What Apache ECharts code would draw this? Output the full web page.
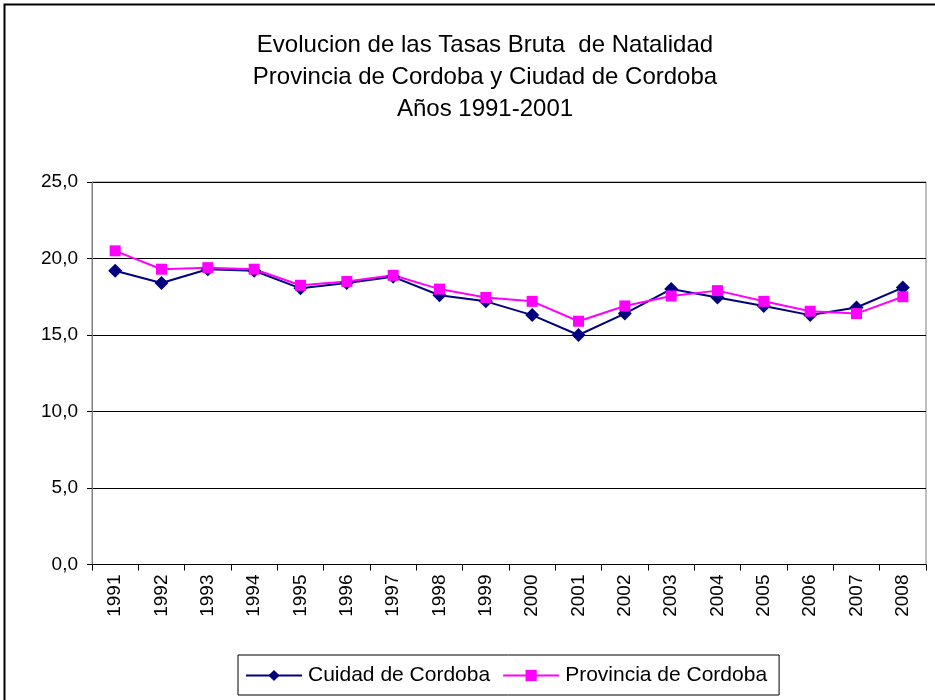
<!DOCTYPE html>
<html>
<head>
<meta charset="utf-8">
<script src="https://cdn.jsdelivr.net/npm/echarts@6/dist/echarts.min.js"></script>
<style>
html,body{margin:0;padding:0;background:#fff;}
#chart{width:935px;height:700px;}
</style>
</head>
<body>
<div id="chart"></div>
<script>
var years = ['1991','1992','1993','1994','1995','1996','1997','1998','1999','2000','2001','2002','2003','2004','2005','2006','2007','2008'];
var ciudad = [19.2, 18.4, 19.3, 19.2, 18.05, 18.4, 18.8, 17.6, 17.2, 16.3, 15.0, 16.4, 18.0, 17.45, 16.9, 16.3, 16.8, 18.1];
var provincia = [20.5, 19.3, 19.4, 19.3, 18.25, 18.5, 18.9, 18.0, 17.45, 17.2, 15.9, 16.9, 17.55, 17.9, 17.2, 16.55, 16.4, 17.5];
var yTicks = [0, 5, 10, 15, 20, 25];
var FONT = '"Liberation Sans", Arial, sans-serif';

var chart = echarts.init(document.getElementById('chart'), null, {renderer: 'canvas'});
chart.setOption({
  backgroundColor: '#ffffff',
  animation: false,
  graphic: [{
    type: 'rect',
    shape: {x: 4.5, y: 4.5, width: 940, height: 700},
    style: {fill: 'none', stroke: '#000', lineWidth: 2},
    silent: true
  }],
  title: {
    text: 'Evolucion de las Tasas Bruta  de Natalidad\nProvincia de Cordoba y Ciudad de Cordoba\nAños 1991-2001',
    left: 480,
    top: 24,
    textAlign: 'center',
    textStyle: {fontFamily: FONT, fontSize: 24, fontWeight: 'normal', color: '#000', lineHeight: 32}
  },
  grid: {
    left: 92, right: 9, top: 182, bottom: 135.5,
    show: true, borderColor: '#808080', borderWidth: 1,
    backgroundColor: 'transparent'
  },
  legend: {
    data: ['Cuidad de Cordoba', 'Provincia de Cordoba'],
    left: 238, top: 655,
    padding: [10, 12, 9, 7],
    itemGap: 12,
    itemWidth: 56, itemHeight: 14,
    borderColor: '#000', borderWidth: 1,
    textStyle: {fontFamily: FONT, fontSize: 21, color: '#000', padding: [0, 0, 0, 1]}
  },
  xAxis: {
    type: 'category',
    data: years,
    boundaryGap: true,
    axisLine: {show: true, lineStyle: {color: '#000', width: 1}},
    axisTick: {show: true, interval: 0, length: 6, lineStyle: {color: '#000'}},
    axisLabel: {rotate: 90, interval: 0, margin: 10, fontFamily: FONT, fontSize: 19, color: '#000'},
    splitLine: {show: false}
  },
  yAxis: {
    type: 'value',
    min: 0, max: 25, interval: 5,
    axisLine: {show: true, lineStyle: {color: '#808080'}},
    axisTick: {show: true, length: 5, lineStyle: {color: '#000'}},
    axisLabel: {
      margin: 14, fontFamily: FONT, fontSize: 19, color: '#000',
      formatter: function (v) { return yTicks.indexOf(v) >= 0 ? v.toFixed(1).replace('.', ',') : ''; }
    },
    splitLine: {show: true, lineStyle: {color: '#000', width: 1}}
  },
  series: [{
    name: 'Cuidad de Cordoba',
    type: 'line',
    data: ciudad,
    symbol: 'diamond',
    symbolSize: 14,
    itemStyle: {color: '#000080'},
    lineStyle: {color: '#000080', width: 2}
  }, {
    name: 'Provincia de Cordoba',
    type: 'line',
    data: provincia,
    symbol: 'rect',
    symbolSize: 11,
    itemStyle: {color: '#ff00ff'},
    lineStyle: {color: '#ff00ff', width: 2}
  }]
});
</script>
</body>
</html>
